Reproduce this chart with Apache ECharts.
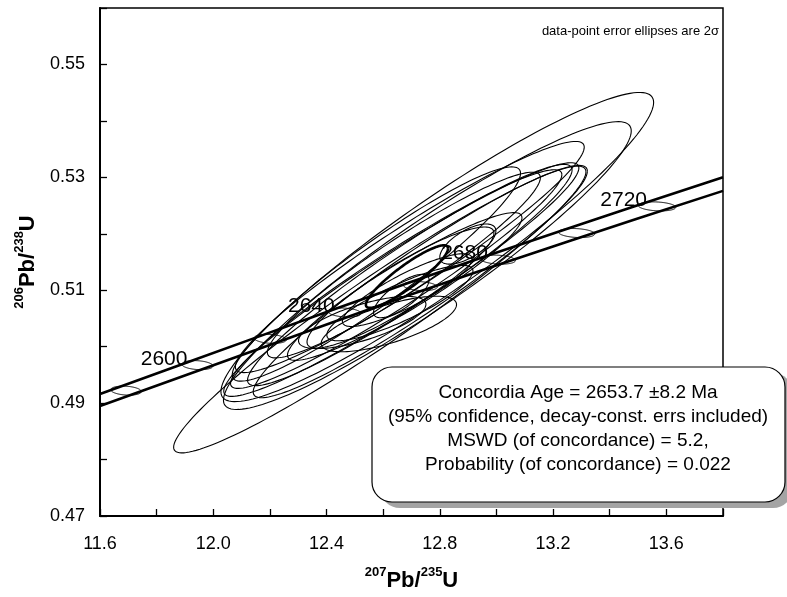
<!DOCTYPE html>
<html>
<head>
<meta charset="utf-8">
<script src="https://cdn.jsdelivr.net/npm/echarts@6/dist/echarts.min.js"></script>
<style>html,body{margin:0;padding:0;background:#fff;}#c{width:787px;height:597px;}</style>
</head>
<body>
<div id="c"></div>
<script>
// ---- data ----
const xTickLabels = ['11.6', '12.0', '12.4', '12.8', '13.2', '13.6'];
const yTickLabels = ['0.47', '0.49', '0.51', '0.53', '0.55'];

// data-point 2-sigma error ellipses: centre, 2s errors, error correlation
const ellCx  = [12.588, 12.791, 12.756, 12.694, 12.731, 12.664, 12.694, 12.673, 12.576, 12.661, 12.684, 12.659, 12.664, 12.526, 12.620, 12.899, 12.646, 12.676, 12.685];
const ellCy  = [0.50658, 0.51765, 0.51437, 0.51588, 0.51154, 0.51189, 0.51269, 0.51446, 0.51287, 0.51048, 0.51242, 0.50773, 0.50897, 0.50428, 0.50402, 0.51818, 0.51198, 0.51066, 0.51002];
const ellSx  = [0.728, 0.764, 0.720, 0.616, 0.590, 0.627, 0.573, 0.482, 0.509, 0.330, 0.145, 0.258, 0.098, 0.225, 0.239, 0.099, 0.585, 0.414, 0.229];
const ellSy  = [0.02540, 0.02739, 0.02550, 0.02048, 0.02058, 0.02070, 0.01960, 0.01645, 0.01898, 0.01072, 0.00554, 0.00668, 0.00384, 0.00462, 0.00492, 0.00356, 0.01937, 0.01309, 0.00644];
const ellRho = [0.96, 0.935, 0.935, 0.95, 0.95, 0.955, 0.95, 0.94, 0.94, 0.90, 0.90, 0.85, 0.75, 0.70, 0.70, 0.65, 0.955, 0.93, 0.86];
const ellBold = [false, false, false, false, false, false, false, false, false, false, true, false, false, false, false, false, false, false, false];

// concordia band (decay-constant error envelope)
const concX     = [11.6, 12.15, 12.7, 13.25, 13.8];
const concUpper = [0.4916, 0.5016, 0.5115, 0.5209, 0.5300];
const concLower = [0.4895, 0.4994, 0.5093, 0.5186, 0.5276];

// age markers on concordia (Ma)
const ages  = [2580, 2600, 2620, 2640, 2660, 2680, 2700, 2720];
const ageX  = [11.692, 11.944, 12.201, 12.464, 12.731, 13.005, 13.283, 13.567];
const ageY  = [0.49221, 0.49673, 0.50138, 0.50605, 0.51073, 0.51542, 0.52013, 0.52485];
const ageSx = [0.054, 0.055, 0.057, 0.058, 0.060, 0.062, 0.064, 0.066];
const ageSy = [0.0008, 0.0008, 0.0008, 0.0008, 0.0008, 0.0008, 0.0008, 0.0008];
const ageRho = [-0.2, -0.2, -0.2, -0.2, -0.2, -0.2, -0.2, -0.2];
const labelledAges = [2600, 2640, 2680, 2720];

const boxLines = [
  'Concordia Age = 2653.7 \u00b18.2 Ma',
  '(95% confidence, decay-const. errs included)',
  'MSWD (of concordance) = 5.2,',
  'Probability (of concordance) = 0.022'
];
const noteText = 'data-point error ellipses are 2\u03c3';

// ---- build ----
const FONT = '"Liberation Sans", Arial, sans-serif';
const ellData = ellCx.map((v, i) => [v, ellCy[i], ellSx[i], ellSy[i], ellRho[i], ellBold[i] ? 2.6 : 1.1]);
const ageData = ages.map((a, i) => [ageX[i], ageY[i], ageSx[i], ageSy[i], ageRho[i], 1.0]);
const labelData = ages.map((a, i) => [ageX[i], ageY[i], a]).filter(d => labelledAges.indexOf(d[2]) >= 0);

function renderEllipse(params, api) {
  const cx = api.value(0), cy = api.value(1), sx = api.value(2), sy = api.value(3), r = api.value(4), lw = api.value(5);
  const q = Math.sqrt(1 - r * r);
  const pts = [];
  const N = 160;
  for (let i = 0; i <= N; i++) {
    const t = 2 * Math.PI * i / N;
    pts.push(api.coord([cx + sx * Math.cos(t), cy + sy * (r * Math.cos(t) + q * Math.sin(t))]));
  }
  return { type: 'polyline', shape: { points: pts }, style: { fill: 'none', stroke: '#000', lineWidth: lw } };
}

function renderAgeLabel(params, api) {
  const p = api.coord([api.value(0), api.value(1)]);
  return { type: 'text', x: p[0] - 10, y: p[1] - 6,
    style: { text: String(api.value(2)), fill: '#000', fontSize: 21, fontFamily: FONT, align: 'right', verticalAlign: 'middle' } };
}

const chart = echarts.init(document.getElementById('c'), null, { renderer: 'canvas' });
const axisNameRich = {
  sup: { fontSize: 13, fontWeight: 'bold', fontFamily: FONT, color: '#000', verticalAlign: 'top', lineHeight: 26 },
  b: { fontSize: 22, fontWeight: 'bold', fontFamily: FONT, color: '#000', verticalAlign: 'bottom', lineHeight: 26 }
};
chart.setOption({
  animation: false,
  backgroundColor: '#fff',
  grid: { left: 100, right: 64, top: 8, bottom: 80, show: true, borderColor: '#000', borderWidth: 1.5, backgroundColor: 'transparent' },
  xAxis: {
    type: 'value', min: 11.6, max: 13.8, interval: 0.2,
    name: '{sup|207}{b|Pb/}{sup|235}{b|U}', nameLocation: 'middle', nameGap: 50,
    nameTextStyle: { rich: axisNameRich },
    axisLine: { show: true, onZero: false, lineStyle: { color: '#000', width: 2 } },
    axisTick: { show: true, inside: true, length: 7, lineStyle: { color: '#000', width: 1.3 } },
    axisLabel: {
      margin: 19, fontSize: 18, fontFamily: FONT, color: '#000',
      formatter: v => { const s = v.toFixed(1); return xTickLabels.indexOf(s) >= 0 ? s : ''; }
    },
    splitLine: { show: false }
  },
  yAxis: {
    type: 'value', min: 0.47, max: 0.56, interval: 0.01,
    name: '{sup|206}{b|Pb/}{sup|238}{b|U}', nameLocation: 'middle', nameGap: 55, nameRotate: 90,
    nameTextStyle: { rich: axisNameRich },
    axisLine: { show: true, onZero: false, lineStyle: { color: '#000', width: 2 } },
    axisTick: { show: true, inside: true, length: 7, lineStyle: { color: '#000', width: 1.3 } },
    axisLabel: {
      margin: 15, fontSize: 18, fontFamily: FONT, color: '#000',
      formatter: v => { const s = v.toFixed(2); return yTickLabels.indexOf(s) >= 0 ? s : ''; }
    },
    splitLine: { show: false }
  },
  series: [
    { type: 'line', data: concX.map((x, i) => [x, concUpper[i]]), showSymbol: false, smooth: 0.3,
      lineStyle: { color: '#000', width: 2.6 }, z: 3, silent: true },
    { type: 'line', data: concX.map((x, i) => [x, concLower[i]]), showSymbol: false, smooth: 0.3,
      lineStyle: { color: '#000', width: 2.6 }, z: 3, silent: true },
    { type: 'custom', renderItem: renderEllipse, data: ageData, clip: true, z: 4, silent: true },
    { type: 'custom', renderItem: renderEllipse, data: ellData, clip: true, z: 5, silent: true },
    { type: 'custom', renderItem: renderAgeLabel, data: labelData, z: 6, silent: true }
  ],
  graphic: [
    { type: 'text', x: 719, y: 31, z: 20,
      style: { text: noteText, fill: '#000', fontSize: 13, fontFamily: FONT, align: 'right', verticalAlign: 'middle' } },
    { type: 'rect', z: 20, shape: { x: 380, y: 373, width: 413, height: 135, r: 20 }, style: { fill: '#a4a4a4' } },
    { type: 'rect', z: 21, shape: { x: 372, y: 367, width: 413, height: 135, r: 20 }, style: { fill: '#fff', stroke: '#000', lineWidth: 1.2 } },
    ...boxLines.map((t, i) => ({ type: 'text', x: 578, y: 393 + i * 24, z: 22,
      style: { text: t, fill: '#000', fontSize: 19, fontFamily: FONT, align: 'center', verticalAlign: 'middle' } }))
  ]
});
</script>
</body>
</html>
